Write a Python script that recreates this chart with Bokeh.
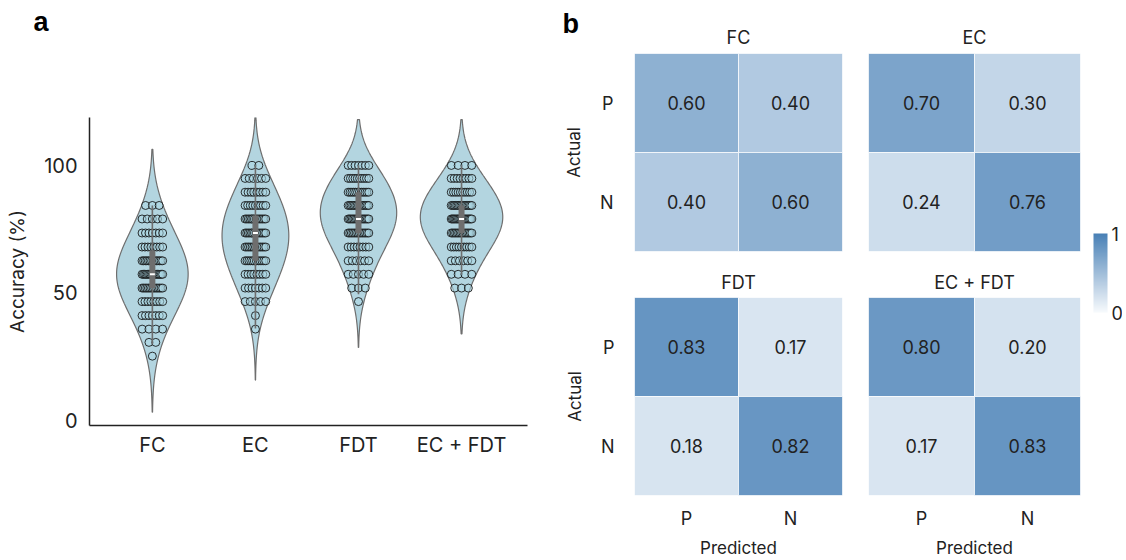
import numpy as np
from bokeh.plotting import figure
from bokeh.layouts import row, column
from bokeh.models import (Range1d, FactorRange, FixedTicker, ColumnDataSource,
                          LinearColorMapper, ColorBar, LinearAxis)
from bokeh.core.properties import value
from bokeh.embed import file_html
from bokeh.resources import INLINE

FONT = "Inter"
BOLD_FONT = "Liberation Sans"
TEXT = "#222222"

# ---------------- data: panel a (accuracy per model) ----------------
GROUPS = ["FC", "EC", "FDT", "EC + FDT"]
ACC_LEVELS = [100.0, 94.9, 89.5, 84.3, 79.0, 73.5, 68.0, 62.6, 57.3, 51.9, 46.6, 41.1, 35.8, 30.6, 25.2]
COUNTS_FC = [0, 0, 0, 3, 5, 7, 8, 14, 17, 14, 8, 7, 4, 2, 1]
COUNTS_EC = [2, 6, 8, 9, 14, 14, 13, 12, 8, 7, 5, 1, 1, 0, 0]
COUNTS_FDT = [7, 10, 12, 15, 16, 14, 8, 6, 5, 3, 1, 0, 0, 0, 0]
COUNTS_ECFDT = [4, 8, 10, 16, 18, 15, 9, 6, 4, 3, 0, 0, 0, 0, 0]
Y_TICKS = [0, 50, 100]

# ---------------- data: panel b (confusion matrices) ----------------
CM_TITLES = ["FC", "EC", "FDT", "EC + FDT"]
CLASSES = ["P", "N"]
# order: (actual P, pred P), (actual P, pred N), (actual N, pred P), (actual N, pred N)
CM_FC = [0.60, 0.40, 0.40, 0.60]
CM_EC = [0.70, 0.30, 0.24, 0.76]
CM_FDT = [0.83, 0.17, 0.18, 0.82]
CM_ECFDT = [0.80, 0.20, 0.17, 0.83]

# ---------------- styles ----------------
VIOLIN_FILL = "#b3d5e0"
VIOLIN_LINE = "#6e6e6e"
DOT_FILL = "#add8e6"
BW = [11.0, 10.0, 9.0, 9.0]   # kde bandwidths
HALF = 0.4


def fig(w, h, bl, br, bt, bb, **kw):
    p = figure(width=w, height=h,
               min_border_left=bl, min_border_right=br, min_border_top=bt, min_border_bottom=bb,
               output_backend="svg", toolbar_location=None, **kw)
    p.outline_line_color = None
    p.grid.visible = False
    return p


def style_axis(ax, tick_size, label_size):
    ax.major_tick_line_color = None
    ax.minor_tick_line_color = None
    ax.major_tick_out = 0
    ax.major_tick_in = 0
    ax.minor_tick_out = 0
    ax.minor_tick_in = 0
    ax.major_label_text_font = FONT
    ax.major_label_text_font_size = tick_size
    ax.major_label_text_color = TEXT
    ax.axis_label_text_font = FONT
    ax.axis_label_text_font_size = label_size
    ax.axis_label_text_font_style = "normal"
    ax.axis_label_text_color = TEXT


def letter_title(p, text, offset, spacer):
    """Bold panel letter as the plot title, lifted by an empty spacer axis."""
    sp = LinearAxis(ticker=FixedTicker(ticks=[]), axis_label=" ", axis_line_color=None,
                    major_tick_line_color=None, minor_tick_line_color=None,
                    major_tick_out=0, major_tick_in=0, minor_tick_out=0, minor_tick_in=0,
                    major_label_standoff=0, axis_label_standoff=spacer,
                    axis_label_text_font_size="1px")
    p.add_layout(sp, "above")
    p.title.text = text
    p.title.text_font = BOLD_FONT
    p.title.text_font_style = "bold"
    p.title.text_font_size = "27px"
    p.title.text_color = "black"
    p.title.align = "left"
    p.title.offset = offset
    p.title.standoff = 0


# ================= panel a =================
pa = fig(560, 558, 89, 33, 117, 133, x_range=Range1d(-0.61, 3.64), y_range=Range1d(-2, 118.8))
xax = pa.below[0]
yax = pa.left[0]
letter_title(pa, "a", -56, 77)

counts_all = [COUNTS_FC, COUNTS_EC, COUNTS_FDT, COUNTS_ECFDT]
samples = [np.repeat(np.array(ACC_LEVELS), c) for c in counts_all]

grids, dens = [], []
for s, bw in zip(samples, BW):
    g = np.linspace(s.min() - 2 * bw, s.max() + 2 * bw, 300)
    d = np.exp(-0.5 * ((g[:, None] - s[None, :]) / bw) ** 2).sum(1) / (len(s) * bw * np.sqrt(2 * np.pi))
    grids.append(g)
    dens.append(d)
dmax = max(d.max() for d in dens)
vx, vy = [], []
for i, (g, d) in enumerate(zip(grids, dens)):
    hw = d / dmax * HALF
    vx.append(list(np.concatenate([i + hw, (i - hw)[::-1]])))
    vy.append(list(np.concatenate([g, g[::-1]])))
pa.patches(vx, vy, fill_color=VIOLIN_FILL, line_color=VIOLIN_LINE, line_width=1.2)

dx, dy = [], []
for i, c in enumerate(counts_all):
    for lev, n in zip(ACC_LEVELS, c):
        if n == 0:
            continue
        j = min(0.1, 0.033 * (n - 1))
        offs = np.linspace(-j, j, n) if n > 1 else np.array([0.0])
        dx.extend(list(i + offs))
        dy.extend([lev] * n)
pa.scatter(dx, dy, size=8, fill_color=DOT_FILL, fill_alpha=0.55,
           line_color="#111111", line_alpha=0.85, line_width=1)

bx, q1s, meds, q3s, los, his = [], [], [], [], [], []
for i, s in enumerate(samples):
    q1, med, q3 = np.percentile(s, [25, 50, 75])
    iqr = q3 - q1
    bx.append(i)
    q1s.append(q1); meds.append(med); q3s.append(q3)
    los.append(max(q1 - 1.5 * iqr, s.min()))
    his.append(min(q3 + 1.5 * iqr, s.max()))
pa.segment(x0=bx, y0=los, x1=bx, y1=his, line_color=VIOLIN_LINE, line_width=1.6)
pa.segment(x0=bx, y0=q1s, x1=bx, y1=q3s, line_color=VIOLIN_LINE, line_width=6, line_cap="butt")
pa.rect(x=bx, y=meds, width=5, height=2, width_units="screen", height_units="screen",
        fill_color="white", line_color=None)

xax.ticker = FixedTicker(ticks=list(range(len(GROUPS))))
xax.major_label_overrides = {i: g for i, g in enumerate(GROUPS)}
yax.ticker = FixedTicker(ticks=Y_TICKS)
yax.axis_label = "Accuracy (%)"
for ax in (xax, yax):
    style_axis(ax, "20px", "19px")
    ax.axis_line_color = "#222222"
    ax.axis_line_width = 1.5
xax.major_label_standoff = 7
yax.major_label_standoff = 12
yax.axis_label_standoff = 12

# ================= panel b =================
c0 = (247, 250, 253)
c1 = (72, 128, 182)
PALETTE = ["#%02x%02x%02x" % tuple(int(round(a + (b - a) * t)) for a, b in zip(c0, c1))
           for t in np.linspace(0, 1, 256)]
mapper = LinearColorMapper(palette=PALETTE, low=0, high=1)


def style_y(ax):
    style_axis(ax, "18px", "17px")
    ax.axis_line_color = None
    ax.axis_label = "Actual"
    ax.major_label_standoff = 20
    ax.axis_label_standoff = 13


def cm_fig(title, vals, w, h, bl, br, bt, bb, show_x, show_y, title_standoff, y_range=None):
    p = fig(w, h, bl, br, bt, bb,
            x_range=FactorRange(*CLASSES),
            y_range=y_range if y_range is not None else FactorRange(*CLASSES[::-1]),
            x_axis_location="below" if show_x else None,
            y_axis_location="left" if show_y else None, title=title)
    p.title.align = "center"
    p.title.text_font = FONT
    p.title.text_font_size = "18px"
    p.title.text_font_style = "normal"
    p.title.text_color = TEXT
    p.title.standoff = title_standoff
    actual = [a for a in CLASSES for _ in CLASSES]
    pred = [b for _ in CLASSES for b in CLASSES]
    src = ColumnDataSource(dict(actual=actual, pred=pred, v=vals, lab=["%.2f" % v for v in vals]))
    p.rect("pred", "actual", 1, 1, source=src, fill_color={"field": "v", "transform": mapper},
           line_color="white", line_width=1, line_alpha=0.7)
    p.text("pred", "actual", text="lab", source=src, text_align="center", text_baseline="middle",
           text_font=value(FONT), text_font_size="18px", text_color=TEXT)
    if show_x:
        ax = p.below[0]
        style_axis(ax, "18px", "17px")
        ax.axis_line_color = None
        ax.axis_label = "Predicted"
        ax.major_label_standoff = 12
        ax.axis_label_standoff = 6
    if show_y:
        style_y(p.left[0])
    return p


# strip carrying the y axis of the FC matrix and the panel letter "b"
top_y = FactorRange(*CLASSES[::-1])
yb = fig(74, 259, 73, 0, 53, 8, x_range=Range1d(0, 1), y_range=top_y,
         x_axis_location=None, y_axis_location="left")
style_y(yb.left[0])
letter_title(yb, "b", -71, 11)

fc = cm_fig(CM_TITLES[0], CM_FC, 221, 259, 0, 13, 53, 8, False, False, 12, y_range=top_y)
ec = cm_fig(CM_TITLES[1], CM_EC, 230, 259, 13, 5, 53, 8, False, False, 12)
fdt = cm_fig(CM_TITLES[2], CM_FDT, 295, 301, 74, 13, 38, 64, True, True, 10)
ecfdt = cm_fig(CM_TITLES[3], CM_ECFDT, 230, 301, 13, 5, 38, 64, True, False, 10)

cbf = fig(37, 558, 8, 15, 233, 246, x_range=Range1d(0, 1), y_range=Range1d(0, 1),
          x_axis_location=None, y_axis_location=None)
cb = ColorBar(color_mapper=mapper, location=(0, 0), width=14, height=79, padding=0,
              ticker=FixedTicker(ticks=[0, 1]), label_standoff=4,
              major_label_text_font=FONT, major_label_text_font_size="18px",
              major_label_text_color=TEXT, major_tick_line_color=None, minor_tick_line_color=None,
              bar_line_color=None, border_line_color=None, background_fill_color=None)
cbf.add_layout(cb, "center")

layout = row(column(pa),
             column(row(column(yb), column(fc), column(ec)), row(column(fdt), column(ecfdt))),
             column(cbf))

open("out.html", "w").write(file_html(layout, INLINE))
